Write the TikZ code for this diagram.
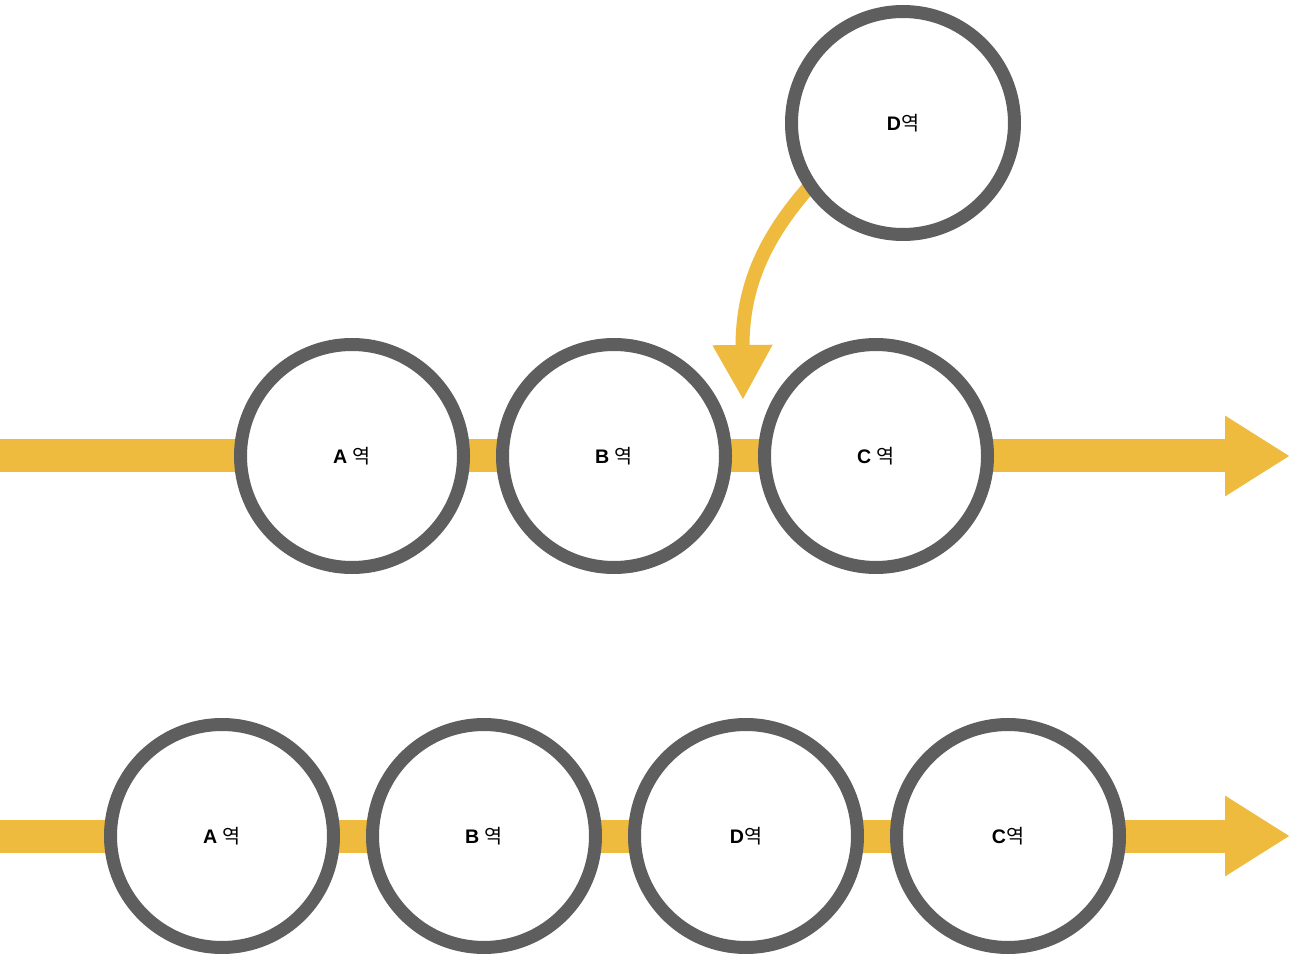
\documentclass[tikz,border=0pt]{standalone}
\usepackage{fontspec}
\setmainfont{Liberation Sans}
\newfontfamily\cjk{Noto Sans CJK KR}
\usetikzlibrary{arrows.meta,backgrounds}
\definecolor{ylw}{RGB}{238,187,63}
\definecolor{ring}{RGB}{94,94,94}
\newcommand{\yk}{{\mdseries\cjk 역}}
\tikzset{
  station/.style={circle,draw=ring,line width=6.5pt,fill=white,minimum size=111.5pt,inner sep=0pt,outer sep=0pt,font=\fontsize{9.8}{11}\selectfont\bfseries},
  track/.style={draw=ylw,line width=16.5pt,-{Triangle[length=32.5pt,width=38pt]}},
  merge/.style={draw=ylw,line width=7pt,-{Triangle[length=27.5pt,width=28pt]}}
}
\begin{document}
\begin{tikzpicture}[x=0.5pt,y=-0.5pt]
\useasboundingbox (0,0) rectangle (1291,962);
% top row
\node[station] (A1) at (352,456) {A \yk};
\node[station] (B1) at (614,456) {B \yk};
\node[station] (C1) at (876,456) {C \yk};
\node[station] (D1) at (903,123) {D\yk};
% bottom row
\node[station] (A2) at (222,836) {A \yk};
\node[station] (B2) at (484,836) {B \yk};
\node[station] (D2) at (746,836) {D\yk};
\node[station] (C2) at (1008,836) {C\yk};
\coordinate (s1) at (0,456);
\coordinate (e1) at (1290,456);
\coordinate (s2) at (0,836);
\coordinate (e2) at (1290,836);
\coordinate (tip) at (743,400);
\begin{pgfonlayer}{background}
\draw[track] (s1) -- (e1);
\draw[track] (s2) -- (e2);
\draw[merge] (D1.214) .. controls (762,240) and (742,290) .. (tip);
\end{pgfonlayer}
\end{tikzpicture}
\end{document}
